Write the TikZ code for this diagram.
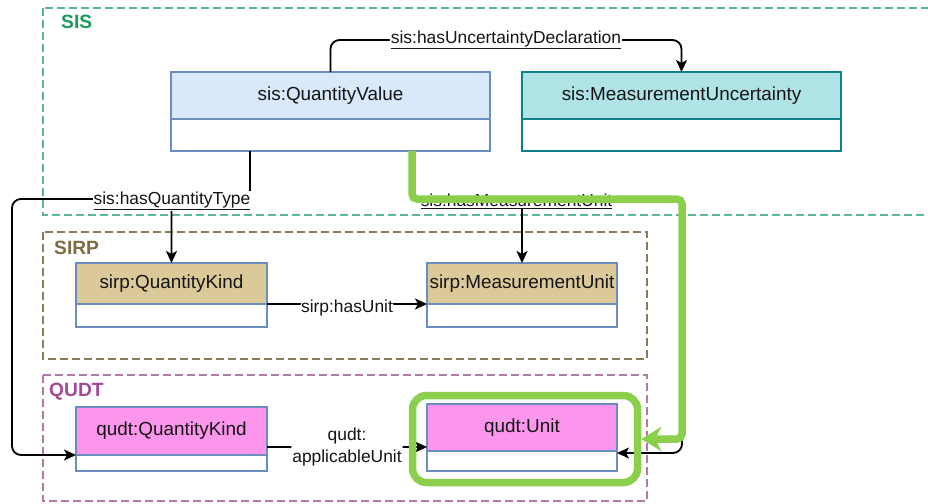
\documentclass[tikz,border=0pt]{standalone}
\usepackage{fontspec}
\setmainfont{Liberation Sans}
\usetikzlibrary{arrows.meta}
\definecolor{sisg}{HTML}{5BB59A}
\definecolor{sist}{HTML}{1E9A5C}
\definecolor{sirpb}{HTML}{8A7A5A}
\definecolor{sirpt}{HTML}{7D6D43}
\definecolor{qudtb}{HTML}{B07AA8}
\definecolor{qudtt}{HTML}{A24A96}
\definecolor{qvfill}{HTML}{DAE8FC}
\definecolor{qvline}{HTML}{6C8EBF}
\definecolor{mufill}{HTML}{B0E3E6}
\definecolor{muline}{HTML}{0E8088}
\definecolor{sirpfill}{HTML}{DBC99A}
\definecolor{pinkfill}{HTML}{FC96EC}
\definecolor{hlgreen}{HTML}{8CCF4D}
\begin{document}
\begin{tikzpicture}[x=1pt,y=-1pt,
  grp/.style={dash pattern=on 8pt off 4pt, line width=1.4pt},
  grplbl/.style={anchor=base west, font=\fontsize{19.2}{22}\selectfont\bfseries, inner sep=0pt},
  hdr/.style={draw, line width=1.5pt, font=\fontsize{18.9}{22}\selectfont, text=black!92, inner sep=0pt, outer sep=0pt},
  bdy/.style={draw, fill=white, line width=1.5pt, inner sep=0pt, outer sep=0pt, anchor=north},
  edge/.style={draw=black, line width=1.8pt, -{Stealth[length=12pt,width=11pt,inset=3pt]}, rounded corners=9pt},
  lbl/.style={fill=white, inner sep=1pt, font=\fontsize{17.4}{22}\selectfont, text=black!92},
  hl/.style={draw=hlgreen, line width=7.5pt, rounded corners=5pt}
]
\useasboundingbox (0,0) rectangle (928,503);
\clip (0,0) rectangle (928,503);
\fill[white] (0,0) rectangle (928,503);

% groups
\draw[grp, draw=sisg] (43,8) rectangle (945,215);
\draw[grp, draw=sirpb] (43,232) rectangle (647,359);
\draw[grp, draw=qudtb] (43,375) rectangle (647,501);
\node[grplbl, text=sist] (lsis) at (61,29) {SIS};
\node[grplbl, text=sirpt] (lsirp) at (54,254) {SIRP};
\node[grplbl, text=qudtt] (lqudt) at (49,396) {QUDT};

% classes
\node[hdr, fill=qvfill, draw=qvline, minimum width=319pt, minimum height=47pt] (qv) at (330.5,95.5) {sis:QuantityValue};
\node[bdy, draw=qvline, minimum width=319pt, minimum height=32pt] (qvb) at (qv.south) {};
\node[hdr, fill=mufill, draw=muline, minimum width=319pt, minimum height=47pt] (mu) at (681.5,95.5) {sis:MeasurementUncertainty};
\node[bdy, draw=muline, minimum width=319pt, minimum height=32pt] (mub) at (mu.south) {};

\node[hdr, fill=sirpfill, draw=qvline, minimum width=191pt, minimum height=41pt] (sqk) at (171.5,283.5) {sirp:QuantityKind};
\node[bdy, draw=qvline, minimum width=191pt, minimum height=23pt] (sqkb) at (sqk.south) {};
\node[hdr, fill=sirpfill, draw=qvline, minimum width=190pt, minimum height=41pt] (smu) at (522,283.5) {sirp:MeasurementUnit};
\node[bdy, draw=qvline, minimum width=190pt, minimum height=23pt] (smub) at (smu.south) {};

\node[hdr, fill=pinkfill, draw=qvline, minimum width=191pt, minimum height=48pt] (qqk) at (171.5,431) {qudt:QuantityKind};
\node[bdy, draw=qvline, minimum width=191pt, minimum height=16pt] (qqkb) at (qqk.south) {};
\node[hdr, fill=pinkfill, draw=qvline, minimum width=190pt, minimum height=47pt] (qu) at (522,427.5) {qudt:Unit};
\node[bdy, draw=qvline, minimum width=190pt, minimum height=20pt] (qub) at (qu.south) {};

% edges
\draw[edge] (qv.north) -- ++(0,-32) -| node[lbl, pos=0.25] (lud) {\underline{sis:hasUncertaintyDeclaration}} (mu.north);
\draw[edge] ([xshift=-80.5pt]qvb.south) -- ++(0,48) -| (sqk.north);
\draw[edge] ([xshift=-80.5pt]qvb.south) -- ++(0,48) -- (12,199) |- (qqk.south west);
\draw[edge] ([xshift=81.5pt]qvb.south) -- ++(0,48) -| (smu.north);
\draw[edge] ([xshift=81.5pt]qvb.south) -- ++(0,48) -- (682,199) |- ([yshift=-2pt]qu.south east);
\draw[edge] (sqk.south east) -- (smu.south west) node[lbl, midway, yshift=-4pt] (lhu) {sirp:hasUnit};
\draw[edge] ([yshift=8pt]qqk.south east) -- ([yshift=4pt]qu.south west) node[lbl, midway, align=center] (lau) {qudt:\\applicableUnit};
\node[lbl] (lqt) at (172,201) {\underline{sis:hasQuantityType}};
\node[lbl] (lmu) at (516.5,201) {\underline{sis:hasMeasurementUnit}};

% highlight
\node[draw=hlgreen, line width=7.5pt, rounded corners=14pt, minimum width=225pt, minimum height=87pt, inner sep=0pt] (hlbox) at (525,439) {};
\draw[hl, -{Stealth[length=20pt,width=24pt,inset=6pt]}] ([xshift=81.5pt]qvb.south) -- ++(0,48) -- (682,199) |- (hlbox.east);
\end{tikzpicture}
\end{document}
